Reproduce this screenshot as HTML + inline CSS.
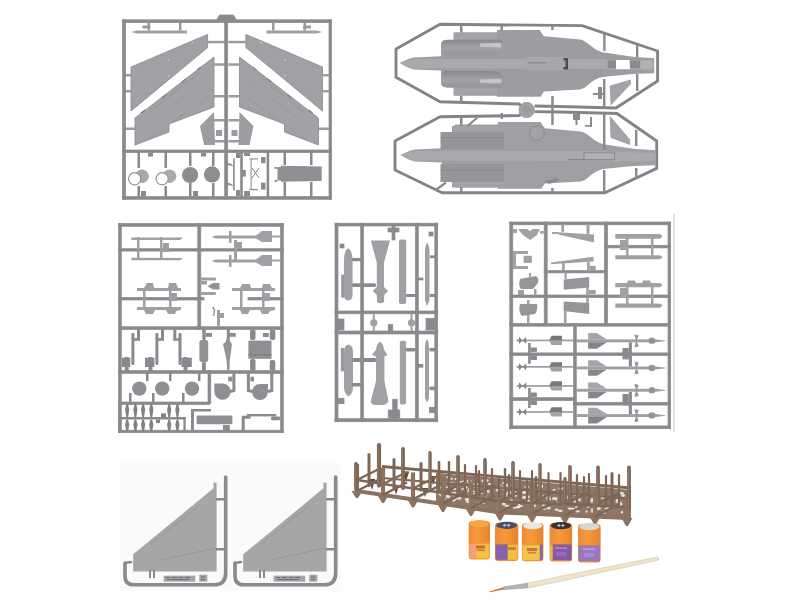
<!DOCTYPE html>
<html><head><meta charset="utf-8"><title>Model kit sprues</title>
<style>
html,body{margin:0;padding:0;background:#fff;width:800px;height:600px;overflow:hidden;font-family:"Liberation Sans",sans-serif;}
svg{display:block;position:absolute;left:0;top:0;}
</style></head><body>
<svg width="800" height="600" viewBox="0 0 800 600">
<defs>
 <linearGradient id="intk" x1="0" y1="0" x2="0" y2="1">
  <stop offset="0" stop-color="#88898d"/><stop offset="0.55" stop-color="#a2a3a7"/><stop offset="1" stop-color="#94959a"/>
 </linearGradient>
 <linearGradient id="pot" x1="0" y1="0" x2="1" y2="0">
  <stop offset="0" stop-color="#ea8a38"/><stop offset="0.4" stop-color="#f69a3a"/><stop offset="1" stop-color="#e6842e"/>
 </linearGradient>
</defs>
<rect width="800" height="600" fill="#fff"/>

<!-- ============ TOP-LEFT SPRUE ============ -->
<g id="tl">
 <g id="tlhalf" fill="#a0a1a4">
  <!-- rod -->
  <polygon points="131.5,32 137,30.4 187,30.4 187,33.6 137,33.6"/>
  <rect x="142.5" y="25.5" width="8" height="3" fill="#9a9b9e"/>
  <rect x="147.5" y="22.5" width="2.5" height="8" fill="#9a9b9e"/>
  <rect x="179" y="22.5" width="2.5" height="8" fill="#9a9b9e"/>
  <!-- stabilizer -->
  <polygon points="131,67 207.6,34.4 207.6,47.6 131,111" stroke="#85868a" stroke-width="0.8"/>
  <!-- wing -->
  <polygon points="214,57 135,118 135,145 169,132 169,124 214,107" fill="#a1a2a6" stroke="#85868a" stroke-width="0.8"/>
  <path d="M200,72 L150,112 M205,80 L145,127 M210,95 L150,138 M182,86 L172,94 M160,103 L152,110" stroke="#95969a" stroke-width="0.7" fill="none"/>
  <path d="M201,67 L197,70 M186,79 L182,82 M166,95 L162,98 M145,110 L141,113" stroke="#7e7f83" stroke-width="1.2" fill="none"/>
  <circle cx="192.4" cy="42.6" r="0.9" fill="#c8c9cc"/>
  <circle cx="168.6" cy="59.6" r="0.9" fill="#c8c9cc"/>
  <circle cx="168.6" cy="75.6" r="0.9" fill="#c8c9cc"/>
  <!-- tail piece -->
  <polygon points="200,126 214,112 215,145 204,145" fill="#9c9da0"/>
  <!-- stubs -->
  <g fill="#9a9b9e">
   <rect x="207" y="40.8" width="18" height="2.5"/>
   <rect x="214" y="63.3" width="11" height="2.5"/>
   <rect x="214" y="95" width="11" height="2.5"/>
   <rect x="214" y="119" width="11" height="2.5"/>
   <rect x="214" y="140" width="11" height="2.5"/>
   <rect x="123.5" y="74" width="8" height="2.5"/>
   <rect x="123.5" y="90" width="8" height="2.5"/>
   <rect x="123.5" y="127.5" width="12" height="2.5"/>
   <rect x="216" y="130" width="6" height="6"/>
  </g>
 </g>
 <use href="#tlhalf" transform="translate(453.5,0) scale(-1,1)"/>
 <!-- frames -->
 <g fill="#898a8e" stroke="#898a8e" stroke-width="0.7">
  <rect x="122.5" y="19.8" width="3" height="179.5"/>
  <rect x="122.5" y="19.8" width="209" height="2.8"/>
  <rect x="329" y="19.8" width="2.6" height="179.5"/>
  <rect x="122.5" y="196.5" width="209" height="2.8"/>
  <rect x="224.7" y="16" width="3" height="183"/>
  <rect x="122.5" y="150" width="209" height="2.6"/>
  <polygon points="216.5,20 219.5,15 233.5,15 236.5,20"/>
 </g>
 <!-- lower left section parts -->
 <g fill="#898a8e">
  <rect x="137.5" y="152" width="2.5" height="16"/>
  <rect x="164.5" y="152" width="2.5" height="16"/>
  <rect x="189" y="152" width="2.5" height="14"/>
  <rect x="212" y="152" width="2.5" height="14"/>
  <rect x="137.5" y="186" width="2.5" height="11"/>
  <rect x="164.5" y="186" width="2.5" height="11"/>
  <rect x="189" y="183" width="2.5" height="14"/>
  <rect x="212" y="183" width="2.5" height="14"/>
  <rect x="148" y="153" width="5" height="3.5"/>
  <rect x="201" y="153" width="5" height="3.5"/>
  <rect x="141" y="191" width="5" height="5.5"/>
  <rect x="193" y="191" width="5" height="5.5"/>
 </g>
 <circle cx="142" cy="176.3" r="6.8" fill="#a8a9ac"/>
 <circle cx="134.6" cy="178.8" r="6.7" fill="#96979b"/>
 <circle cx="134.6" cy="178.8" r="5.5" fill="#fff"/>
 <circle cx="169.5" cy="176.3" r="6.8" fill="#a8a9ac"/>
 <circle cx="162.1" cy="178.8" r="6.7" fill="#96979b"/>
 <circle cx="162.1" cy="178.8" r="5.5" fill="#fff"/>
 <circle cx="190.1" cy="175" r="8.1" fill="#8c8d91"/>
 <circle cx="212" cy="174.4" r="8.1" fill="#8c8d91"/>
 <!-- lower right section -->
 <g fill="#898a8e">
  <rect x="233.1" y="158.4" width="1.6" height="32.1"/>
  <path d="M227.6,163 Q231,163 232.8,165.3 L232.8,166.5 Q231,165 227.6,165.3 Z M227.6,182.7 Q231,182.7 232.8,185.3 L232.8,186.5 Q231,185 227.6,185.3 Z"/>
  <rect x="240.2" y="152" width="2.6" height="45"/>
  <rect x="266.6" y="152" width="2.6" height="45"/>
  <rect x="249.3" y="158.4" width="8.7" height="1.1"/>
  <rect x="249.3" y="189" width="8.7" height="1.1"/>
  <rect x="250.6" y="159" width="1" height="30"/>
  <path d="M252,168 L259,178 M259,168 L252,178" stroke="#898a8e" stroke-width="1"/>
  <rect x="274.4" y="167" width="3" height="1.8"/>
  <rect x="274.4" y="180" width="3" height="1.8"/>
  <rect x="283.5" y="152" width="2.5" height="13"/>
  <rect x="310" y="152" width="2.5" height="13"/>
  <rect x="283.5" y="182" width="2.5" height="15"/>
  <rect x="310" y="182" width="2.5" height="15"/>
  <rect x="236" y="153" width="4" height="5"/>
  <rect x="236" y="190" width="4" height="6"/>
  <rect x="244" y="153" width="6" height="3"/>
  <rect x="261" y="157" width="4.5" height="6.2"/>
  <rect x="261" y="182.7" width="4.5" height="6.9"/>
  <rect x="242.3" y="170" width="3.5" height="6.6"/>
  <rect x="244" y="191" width="6" height="5"/>
 </g>
 <path d="M277.5,167 L281,167 L281,165.8 L321.7,166.5 L321.7,181 L281,181.7 L281,180.5 L277.5,180.5 Z" fill="#8f9093"/>
</g>

<!-- ============ TOP-RIGHT SPRUE ============ -->
<g id="tr">
 <g fill="none" stroke="#838488" stroke-width="2.9" stroke-linejoin="round">
  <polyline points="527,110 519,104 440,101.8 396,77.3 396,48.9 440,24.3 582,25.6 657.6,51 657.6,81 616,108 560,106.5 534.6,106"/>
  <polyline points="527,110 519,115.6 440,116.8 395,141 395,170 442,192.8 605,192.8 656.7,168.4 656.7,141 617,113.5 560,112 534.6,111.6"/>
 </g>
 <circle cx="526.7" cy="110" r="7.6" fill="#a2a3a6" stroke="#949598" stroke-width="1"/>
 <circle cx="526.7" cy="110" r="4.2" fill="#9a9b9e"/>
 <g id="fus1">
  <path d="M399.7,63 C404,61 408,58.5 414,57.5 L441,56.2 L441,44 Q441,40 446,40 L453.7,40 L453.7,32.4 L497,32.4 L497,30 L539.6,30 L543.9,36.2 L580,39.4 Q584,40 590,45 Q596,50.5 602.5,52.2 L632.5,56.7 L654.2,58.2 L654.2,73.2 L632.5,74 L602.5,77 Q594,79 588,85 Q584,89 580,89.4 L543.9,91.5 L540.7,96.8 L497,96.8 L497,95.6 L453.7,95.6 L453.7,87.4 L446,87.4 Q441,87.4 441,83 L441,70.5 L414,69.5 C408,68 404,65.5 399.7,63 Z" fill="#9c9da1"/>
  <path d="M401,63 C405,61.5 409,59.5 414,59 L600,59 Q615,60 654,61 L654,69 Q615,70 600,69 L414,68.5 C409,67.5 405,65 401,63 Z" fill="#a9aaae"/>
  <path d="M453.7,32.4 L497,32.4 L497,39.7 L453.7,39.7 Z" fill="#a3a4a8"/>
  <path d="M453.7,87.4 L497,87.4 L497,95.6 L453.7,95.6 Z" fill="#a3a4a8"/>
  <path d="M441.8,45 Q441.8,39.7 448,39.7 L502.3,39.7 L502.3,52 Q498,55.3 490,55.3 L448,55.3 Q441.8,55.3 441.8,50 Z" fill="url(#intk)"/>
  <path d="M441.8,76 Q441.8,70.9 448,70.9 L490,70.9 Q498,70.9 502.3,74 L502.3,87.4 L448,87.4 Q441.8,87.4 441.8,82 Z" fill="url(#intk)"/>
  <path d="M480,43.5 L500,42.8 Q503,45 500,47.5 L480,46.8 Z" fill="#c4c5c8"/>
  <path d="M480,79.5 L500,78.8 Q503,81 500,83.5 L480,82.8 Z" fill="#c4c5c8"/>
  <rect x="526" y="57" width="42" height="13" fill="#a7a8ac"/>
  <rect x="528" y="62" width="18" height="1.5" fill="#8a8b8f"/>
  <path d="M563.5,58 L568,58 L568,69.5 L563.5,69.5 L563.5,67 L565.5,67 L565.5,60.5 L563.5,60.5 Z" fill="#4a4b4f"/>
 </g>
 <g id="fus2">
  <path d="M399.7,63 C404,61 408,58.5 414,57.5 L441,56.2 L441,44 Q441,40 446,40 L453.7,40 L453.7,32.4 L497,32.4 L497,30 L539.6,30 L543.9,36.2 L580,39.4 Q584,40 590,45 Q596,50.5 602.5,52.2 L632.5,56.7 L654.2,58.2 L654.2,73.2 L632.5,74 L602.5,77 Q594,79 588,85 Q584,89 580,89.4 L543.9,91.5 L540.7,96.8 L497,96.8 L497,95.6 L453.7,95.6 L453.7,87.4 L446,87.4 Q441,87.4 441,83 L441,70.5 L414,69.5 C408,68 404,65.5 399.7,63 Z" fill="#9e9fa3" transform="translate(0.8,92)"/>
  <path d="M401,63 C405,61.5 409,59.5 414,59 L600,59 Q615,60 654,61 L654,69 Q615,70 600,69 L414,68.5 C409,67.5 405,65 401,63 Z" fill="#a9aaae" transform="translate(0.8,92)"/>
  <rect x="452" y="126" width="52" height="6" fill="#a2a3a7"/>
  <rect x="452" y="182" width="52" height="5.5" fill="#a2a3a7"/>
  <rect x="440.5" y="132" width="63.5" height="17" fill="#959699"/>
  <rect x="440.5" y="164" width="63.5" height="18" fill="#959699"/>
  <rect x="440.5" y="137" width="63.5" height="1" fill="#8b8c90"/>
  <rect x="440.5" y="170" width="63.5" height="1" fill="#8b8c90"/>
  <path d="M498,123 L530,123 L536,126 L536,140 L504,140 Z" fill="#9c9da1" opacity="0"/>
  <circle cx="537" cy="133" r="7.2" fill="#a2a3a7" stroke="#8c8d91" stroke-width="1"/>
  <rect x="568" y="159" width="46" height="1.2" fill="#86878b"/>
  <rect x="584" y="152.8" width="30.7" height="6.8" fill="#b0b1b5" stroke="#86878a" stroke-width="0.8"/>
  <path d="M545,181 L556,178 L560,180 L549,184 Z" fill="#8a8b8f"/>
 </g>
 <path d="M607.7,60.5 L616,60.5 L616,68 L607.7,68 Z M630,60.5 L640,60.5 L640,68 L630,68 Z" fill="#8a8b8f"/>
 <path d="M616,60 L629.5,60 L630,69.3 L616,69.3 Z" fill="#ffffff"/>
 <path d="M641,60 L652,59.5 L652,71 L641,69 Z" fill="#b4b5b8" opacity="0.6"/>
 <path d="M467.5,126 L477.5,117.5 M435,190.5 L446,182.5" stroke="#898a8e" stroke-width="2.2" fill="none"/>
 <polygon points="610.2,86 630.5,80 630.5,84 611,104.7" fill="#a3a4a8" stroke="#8a8b8f" stroke-width="0.6"/>
 <polygon points="610.7,176.5 631.7,168.7 631.7,173.5 611.5,196" fill="#a0a1a4" opacity="0"/>
 <g fill="#898a8e">
  <rect x="460" y="25" width="2.5" height="7.5"/>
  <rect x="500.5" y="25" width="2.5" height="5"/>
  <rect x="551.2" y="25" width="2.5" height="5"/>
  <rect x="603.2" y="33" width="2.4" height="18"/>
  <rect x="636" y="45" width="2.4" height="12"/>
  <rect x="460" y="95.6" width="2.5" height="7"/>
  <rect x="551.2" y="96" width="2.5" height="10.5"/>
  <rect x="603" y="79" width="2.4" height="28.5"/>
  <rect x="636" y="74" width="2.4" height="17"/>
  <rect x="593" y="93" width="10" height="2"/>
  <rect x="598" y="87" width="4" height="12"/>
  <rect x="460" y="117" width="2.5" height="9"/>
  <rect x="500.5" y="113" width="2.5" height="6"/>
  <rect x="460" y="187" width="2.5" height="6"/>
  <rect x="551.2" y="105" width="2.5" height="20"/>
  <rect x="551.2" y="188" width="2.5" height="5"/>
  <rect x="603" y="113" width="2.4" height="37"/>
  <rect x="603" y="170" width="2.4" height="22"/>
  <rect x="635" y="130" width="2.4" height="16"/>
  <rect x="635" y="168" width="2.4" height="10"/>
  <rect x="573" y="114" width="7" height="6"/>
  <rect x="575.5" y="120" width="2" height="5"/>
  <rect x="590" y="117" width="2" height="10"/>
  <rect x="585" y="125" width="7" height="1.6"/>
 </g>
 <polygon points="610.2,116.7 629.7,139.5 629.7,144.5 611,137.5" fill="#a3a4a8" stroke="#8a8b8f" stroke-width="0.6"/>
</g>

<!-- ============ MIDDLE-LEFT SPRUE ============ -->
<g id="ml">
 <g fill="#898a8e" stroke="#898a8e" stroke-width="0.7">
  <rect x="118.5" y="223.5" width="2.8" height="209"/>
  <rect x="118.5" y="223.5" width="164.8" height="2.8"/>
  <rect x="280.6" y="223.5" width="2.7" height="209"/>
  <rect x="118.5" y="430.2" width="164.8" height="2.5"/>
  <rect x="197.8" y="223.5" width="3" height="106"/>
  <rect x="118.5" y="248.7" width="164.8" height="2.4"/>
  <rect x="118.5" y="297.4" width="85.5" height="2.6"/>
  <rect x="248" y="297.4" width="35" height="2.6"/>
  <rect x="118.5" y="326.7" width="164.8" height="2.8"/>
  <rect x="118.5" y="370.6" width="164.8" height="2.8"/>
  <rect x="118.5" y="402" width="91" height="2.5"/>
  <rect x="208" y="370.6" width="2.8" height="33"/>
 </g>
 <g fill="#9fa0a3">
  <!-- left rods -->
  <polygon points="131.4,237.5 183,237.5 180,240 131.4,240"/>
  <polygon points="131.4,257.8 183,258 180,260.3 131.4,260.3"/>
  <rect x="137" y="237" width="2.5" height="23"/>
  <rect x="160" y="237" width="2.5" height="23"/>
  <rect x="163" y="243" width="6" height="9"/>
  <!-- missiles -->
  <path d="M212,237 Q214,235 218,235.5 L256,235.5 L262,231 L272,231 L272,242 L262,242 L256,238.5 L218,238.5 Q214,238.5 212,237 Z"/>
  <path d="M212,261 Q214,259 218,259.5 L256,259.5 L262,255 L272,255 L272,266 L262,266 L256,262.5 L218,262.5 Q214,262.5 212,261 Z"/>
  <rect x="229" y="231" width="2.5" height="12"/>
  <rect x="229" y="255" width="2.5" height="12"/>
  <rect x="272" y="235.5" width="8.6" height="2"/>
  <rect x="272" y="259.5" width="8.6" height="2"/>
  <rect x="234" y="240" width="3" height="21"/>
  <rect x="236" y="242" width="6" height="7"/>
  <!-- pylons -->
  <path d="M137,288 L144,288 L147,283 L153,283 L154,288 L168,288 L169,283 L176,283 L178,288 L181,288 L181,291 L137,291 Z"/>
  <path d="M137,307 L181,307 L181,310 L176,311 L175,314 L168,314 L166,310 L155,310 L153,314 L146,314 L144,310 L137,310 Z"/>
  <rect x="143" y="288" width="2.5" height="22"/>
  <rect x="169" y="288" width="2.5" height="22"/>
  <rect x="171" y="293" width="6" height="8"/>
  <path d="M232,288 L240,288 L242,284 L250,284 L251,288 L262,288 L263,284 L270,284 L272,288 L275,288 L275,291 L232,291 Z"/>
  <path d="M232,307 L275,307 L275,310 L270,311 L268,314 L262,314 L260,310 L250,310 L248,314 L242,314 L240,310 L232,310 Z"/>
  <rect x="240" y="288" width="2.5" height="22"/>
  <rect x="262" y="288" width="2.5" height="22"/>
  <rect x="264" y="293" width="6" height="8"/>
  <!-- center small -->
  <rect x="200" y="277.5" width="16" height="3" rx="1.2"/>
  <path d="M207.5,286.2 L213,283 L219.5,283 L219.5,289.5 L213,289.5 Z" fill="#919296"/>
  <rect x="200" y="281" width="7" height="3.5"/>
  <rect x="200" y="292" width="16" height="3" rx="1.2"/>
  <rect x="217" y="310" width="3" height="16"/>
  <rect x="220" y="313" width="4" height="5"/>
  <path d="M212.5,307 L214.5,310 L213.5,316" fill="none" stroke="#919296" stroke-width="1.4"/>
 </g>
 <!-- lower section: vertical parts -->
 <g fill="#898a8e">
  <rect x="131.4" y="333" width="3" height="32" rx="1.2"/>
  <rect x="137" y="329" width="3" height="11"/>
  <rect x="133" y="338.2" width="7" height="2.6"/>
  <rect x="155.4" y="333" width="3" height="32" rx="1.2"/>
  <rect x="161" y="329" width="3" height="11"/>
  <rect x="157" y="338.2" width="7" height="2.6"/>
  <rect x="178.5" y="333" width="3" height="32" rx="1.2"/>
  <rect x="173.3" y="329" width="3" height="11"/>
  <rect x="173.3" y="338.2" width="7" height="2.6"/>
  <rect x="122" y="357.7" width="8.3" height="9.3"/>
  <rect x="124.7" y="357" width="4" height="15"/>
  <rect x="145" y="357.7" width="9.4" height="9.3"/>
  <rect x="148.5" y="357" width="4" height="15"/>
  <rect x="181.5" y="357.7" width="10.3" height="9.3"/>
  <rect x="183.5" y="357" width="4" height="15"/>
  <rect x="202.3" y="329" width="3.4" height="11" rx="1.2"/>
  <rect x="202" y="362" width="3.8" height="9" rx="1.2"/>
  <rect x="206" y="333" width="6" height="3.8"/>
  <rect x="226.8" y="329" width="3" height="10"/>
  <rect x="229" y="333" width="6.7" height="3.8"/>
  <rect x="250" y="329.5" width="5.5" height="10.5" rx="2"/>
  <rect x="269.8" y="329.5" width="5.5" height="10.5" rx="2"/>
  <rect x="263" y="333" width="5.7" height="4"/>
  <rect x="250" y="359" width="5.5" height="12" rx="2"/>
  <rect x="269.8" y="360" width="5.5" height="11" rx="2"/>
 </g>
 <g fill="#98999c">
  <path d="M199.4,341.5 L201,340 L206.6,340 L208.2,341.5 L208.2,360.5 L206.6,362 L201,362 L199.4,360.5 Z" fill="#919296"/>
  <path d="M226.5,339 Q227.8,337.5 229.5,339 L230.5,342 L231.9,344 L231,352 L229.8,360 L229.5,370 L227.2,370 L226.5,360 L224.8,352 L223,344 L225.5,342 Z" fill="#939498"/>
  <rect x="248.4" y="340.6" width="23.1" height="18.2" fill="#8e8f93"/>
  <rect x="248.4" y="354" width="23.1" height="1.2" fill="#7e7f83"/>
  <circle cx="139.3" cy="388.6" r="7.2" fill="#8f9093"/>
  <circle cx="162.2" cy="388.6" r="7.2" fill="#8f9093"/>
  <circle cx="192" cy="388.6" r="7.2" fill="#8f9093"/>
  <path d="M214.3,383.4 L222,383.4 A8.2,8.2 0 1 1 214.3,391.6 Z" fill="#8e8f93"/>
  <path d="M268,384 L268,392 A8,8 0 1 1 260,384 Z" fill="#8e8f93"/>
  <rect x="196.6" y="415.5" width="35.8" height="8.7" rx="1" fill="#8e8f93"/>
 </g>
 <g fill="#898a8e">
  <rect x="146" y="373" width="2.5" height="8"/>
  <rect x="169" y="373" width="2.5" height="8"/>
  <rect x="198" y="373" width="2.5" height="8"/>
  <path d="M233.9,373 L233.9,390.5 L230,391.5" fill="none" stroke="#898a8e" stroke-width="3"/>
  <path d="M248.4,373 L248.4,390.5 L252.5,391.5" fill="none" stroke="#898a8e" stroke-width="3"/>
  <path d="M271.8,373 L271.8,390.5 L268,391.5" fill="none" stroke="#898a8e" stroke-width="3"/>
  <rect x="228.2" y="376.7" width="4.2" height="4.7"/>
  <rect x="250.5" y="376.7" width="3.5" height="4.7"/>
  <rect x="129" y="393" width="2.5" height="9"/>
  <rect x="152" y="393" width="2.5" height="9"/>
  <rect x="182" y="393" width="2.5" height="9"/>
  <rect x="191" y="409" width="3" height="21"/>
  <rect x="191" y="409" width="20" height="2.5"/>
  <rect x="223" y="425" width="6.8" height="6"/>
  <path d="M250.5,417.2 L243.2,417.2 L243.2,431" fill="none" stroke="#898a8e" stroke-width="3"/>
  <rect x="246.8" y="414" width="29.5" height="2.4"/>
  <rect x="271" y="416.5" width="9.4" height="3.8" rx="1.5"/>
  <rect x="118.5" y="417" width="67" height="2.5"/>
  <rect x="183.4" y="417" width="2.3" height="14"/>
  <rect x="118.5" y="404" width="2" height="26"/>
 </g>
 <g fill="#808185">
  <path d="M126.4,404.0 L128.0,404.0 L129.3,409.5 L128.1,417.0 L126.3,417.0 L125.1,409.5 Z M126.4,419.5 L128.0,419.5 L129.3,424.5 L128.1,431.5 L126.3,431.5 L125.1,424.5 Z M134.6,404.0 L136.2,404.0 L137.5,409.5 L136.3,417.0 L134.5,417.0 L133.3,409.5 Z M134.6,419.5 L136.2,419.5 L137.5,424.5 L136.3,431.5 L134.5,431.5 L133.3,424.5 Z M142.3,404.0 L143.9,404.0 L145.2,409.5 L144.0,417.0 L142.2,417.0 L141.0,409.5 Z M142.3,419.5 L143.9,419.5 L145.2,424.5 L144.0,431.5 L142.2,431.5 L141.0,424.5 Z M150.5,404.0 L152.1,404.0 L153.4,409.5 L152.2,417.0 L150.4,417.0 L149.2,409.5 Z M150.5,419.5 L152.1,419.5 L153.4,424.5 L152.2,431.5 L150.4,431.5 L149.2,424.5 Z M168.4,404.0 L170.0,404.0 L171.3,409.5 L170.1,417.0 L168.3,417.0 L167.1,409.5 Z M168.4,419.5 L170.0,419.5 L171.3,424.5 L170.1,431.5 L168.3,431.5 L167.1,424.5 Z M176.6,404.0 L178.2,404.0 L179.5,409.5 L178.3,417.0 L176.5,417.0 L175.3,409.5 Z M176.6,419.5 L178.2,419.5 L179.5,424.5 L178.3,431.5 L176.5,431.5 L175.3,424.5 Z"/>
  <rect x="161" y="413.4" width="5" height="3.6"/>
  <rect x="156" y="419.5" width="4" height="3.5"/>
 </g>
</g>

<!-- ============ MIDDLE-CENTER SPRUE ============ -->
<g id="mc">
 <g fill="#898a8e" stroke="#898a8e" stroke-width="0.7">
  <rect x="335" y="223.2" width="3" height="198.5"/>
  <rect x="335" y="223.2" width="102.7" height="2.8"/>
  <rect x="434.8" y="223.2" width="2.9" height="198.5"/>
  <rect x="335" y="418.7" width="102.7" height="3"/>
  <rect x="360.7" y="223.2" width="2.9" height="198.5"/>
  <rect x="415.4" y="223.2" width="2.9" height="198.5"/>
  <rect x="335" y="311" width="102.7" height="2.8"/>
  <rect x="335" y="331" width="102.7" height="3"/>
  <rect x="392" y="226" width="3" height="14"/>
  <rect x="388" y="228" width="4" height="4"/>
  <rect x="395" y="228" width="4" height="4"/>
  <rect x="340" y="244" width="4" height="4"/>
  <rect x="429" y="232" width="4" height="4"/>
  <rect x="338" y="319" width="6" height="11"/>
  <rect x="426" y="318.3" width="8.5" height="11.7"/>
  <rect x="388.2" y="324.6" width="4.5" height="6.4"/>
  <rect x="338" y="398.3" width="6" height="5.4"/>
  <rect x="429.5" y="407.3" width="5.5" height="5.4"/>
  <rect x="392.7" y="399.2" width="4.5" height="20"/>
  <rect x="388.2" y="410" width="11.6" height="8"/>
 </g>
 <g fill="#a0a1a4">
  <path d="M348.2,248.2 Q352.5,250 352.6,262 L352.6,294 Q352.6,300.5 348.2,300.5 Q343.9,300.5 343.9,294 L343.9,262 Q344,250 348.2,248.2 Z"/>
  <rect x="341.2" y="274.7" width="2.8" height="23" fill="#98999d"/>
  <path d="M370.8,240.5 L390,240.5 L384,262.6 L384,287 L388,291 L384.2,295 L384,302 Q380.5,304.5 377,302 L376.8,295 L372.7,291 L376.8,287 L376.8,262.6 Z"/>
  <rect x="399" y="239.6" width="7.2" height="64.5" rx="2"/>
  <path d="M427,242.5 Q429.5,246 429.5,252 L429.5,300 L427,306.6 L425,300 L425,252 Q425,246 427,242.5 Z"/>
  <path d="M348.5,344.4 Q353,345 353,352 L353,388 Q353,393 348.5,396.5 Q344,393 344,388 L344,352 Q344,345 348.5,344.4 Z"/>
  <rect x="340.8" y="348" width="3.4" height="23.4" fill="#98999d"/>
  <path d="M380,341.5 Q383.5,344 384,349.8 L387.5,355 L384.4,356.5 L384.4,381 L388.5,401 Q387,405 382,405 L376,405 Q371,405 370.8,401 L376,381 L376,356.5 L371.9,355 L376,349.8 Q376.5,344 380,341.5 Z"/>
  <rect x="399.8" y="340.8" width="6.3" height="63.8" rx="2"/>
  <path d="M427,339 Q429,342 429,348 L429,398 L427,403 L425,398 L425,348 Q425,342 427,339 Z"/>
  <circle cx="373.8" cy="322.8" r="3.6"/>
  <circle cx="411.5" cy="322.8" r="3.6"/>
  <rect x="372.8" y="314" width="2" height="6"/>
  <rect x="372.8" y="325" width="2" height="6"/>
  <rect x="410.5" y="314" width="2" height="6"/>
  <rect x="410.5" y="325" width="2" height="6"/>
 </g>
 <g fill="#898a8e">
  <rect x="352" y="258" width="9" height="3.2" rx="1"/>
  <rect x="352" y="283.3" width="24" height="3.7" rx="1.5"/>
  <rect x="406" y="294" width="10" height="3" rx="1"/>
  <rect x="429.8" y="255.4" width="6" height="2.8"/>
  <rect x="429.8" y="294" width="6" height="3"/>
  <rect x="418.4" y="277.6" width="5" height="2.8"/>
  <rect x="352" y="357.9" width="24.5" height="4.2" rx="1.8"/>
  <rect x="352" y="383" width="9.2" height="3.6" rx="1.4"/>
  <rect x="405.5" y="348" width="10" height="3.4" rx="1.4"/>
  <rect x="429.5" y="348" width="5.6" height="3.4"/>
  <rect x="417.8" y="364" width="5.5" height="3.6"/>
  <rect x="429.5" y="386.6" width="5.6" height="3.6"/>
 </g>
</g>

<!-- ============ MIDDLE-RIGHT SPRUE ============ -->
<rect x="673.2" y="214" width="1.7" height="218" fill="#dcdcdc"/>
<g id="mr">
 <g fill="#898a8e" stroke="#898a8e" stroke-width="0.7">
  <rect x="509.8" y="222" width="3" height="206.7"/>
  <rect x="509.8" y="222" width="160.7" height="2.8"/>
  <rect x="668" y="222" width="2.6" height="206.7"/>
  <rect x="509.8" y="425.9" width="160.7" height="2.8"/>
  <rect x="544.2" y="222" width="3" height="102"/>
  <rect x="604.5" y="222" width="3" height="102"/>
  <rect x="509.8" y="295" width="160.7" height="2.6"/>
  <rect x="544.2" y="270.6" width="62" height="2.3"/>
  <rect x="604.5" y="245.3" width="66" height="2.6"/>
  <rect x="509.8" y="323.4" width="160.7" height="2.8"/>
  <rect x="573.6" y="323.4" width="2.7" height="105"/>
  <rect x="509.8" y="352.9" width="160.7" height="2.6"/>
  <rect x="509.8" y="397.7" width="66" height="2.8"/>
  <rect x="573.6" y="402.3" width="97" height="2.8"/>
 </g>
 <g fill="#a0a1a4">
  <!-- right rods -->
  <path d="M615.3,234 L660,234 L662.7,236.3 L660,238.7 L615.3,238.7 Z"/>
  <path d="M615.3,255.3 L660,255.3 L662.7,257.3 L660,259.3 L615.3,259.3 Z"/>
  <path d="M615.3,283 L627,283 L628,280.5 L635,280.5 L636,283 L642,283 L643,280.5 L650,280.5 L651,283 L660,283 L662.7,285 L660,287.3 L615.3,287.3 Z"/>
  <path d="M615.3,303.5 L660,303.5 L662.7,305.6 L660,307.7 L615.3,307.7 Z"/>
  <rect x="626" y="238" width="2.5" height="18"/>
  <rect x="651" y="238" width="2.5" height="18"/>
  <rect x="620" y="240" width="6" height="10"/>
  <rect x="626" y="287" width="2.5" height="17"/>
  <rect x="651" y="287" width="2.5" height="17"/>
  <rect x="620" y="288" width="6" height="10"/>
  <!-- middle wedges -->
  <polygon points="558,232.3 594,234.5 594,242.6 558,234.6"/>
  <polygon points="551,262.5 593.5,256.7 593.5,261.5 551,264.2"/>
  <rect x="552" y="232" width="6" height="2" />
  <polygon points="563.7,279.5 589.2,277 589.2,287.5 563.7,289.7" fill="#949598"/>
  <polygon points="563.7,301.4 589.2,303 589.2,314 563.7,311" fill="#949598"/>
  <rect x="561.3" y="224" width="2.8" height="8" rx="1"/>
  <rect x="586.5" y="224" width="3" height="10" rx="1"/>
  <rect x="562" y="263" width="2.8" height="8" rx="1"/>
  <rect x="587" y="262" width="2.8" height="9" rx="1"/>
  <rect x="589.7" y="265.8" width="6" height="4.2"/>
  <rect x="564.6" y="272" width="2.2" height="7"/>
  <rect x="586.2" y="287" width="2.6" height="8.5"/>
  <rect x="588.8" y="290" width="6.9" height="4.2"/>
  <rect x="586.2" y="297" width="2.6" height="6"/>
  <rect x="563.9" y="310" width="2.6" height="14"/>
  <!-- left small parts -->
  <path d="M518,229 L527,229 L530,231 L533,229 L540,229 L537,235 L530,240 L523,235 Z"/>
  <rect x="513" y="229" width="4" height="4"/>
  <rect x="540" y="231" width="5" height="2.5"/>
  <rect x="513" y="251" width="15" height="3"/>
  <rect x="513" y="266" width="15" height="3"/>
  <rect x="513" y="251" width="3" height="18"/>
  <rect x="523.6" y="255.8" width="8.3" height="7.2" rx="1"/>
  <path d="M520,279 L536,276 Q539,278 538,283 L533,289 L521,289 Q518,286 520,279 Z" fill="#949598"/>
  <rect x="529" y="273" width="2" height="4"/>
  <path d="M520,304 L537,304 Q538,310 535,314 L522,316 Q518,312 520,304 Z" fill="#949598"/>
  <rect x="527" y="300" width="2.5" height="5"/>
  <rect x="527" y="315" width="2.5" height="8"/>
  <rect x="518" y="290" width="6" height="5"/>
  <rect x="534" y="289" width="2.5" height="6"/>
 </g>
 <!-- missiles small (left) -->
 <g id="sm" fill="#9c9da1">
  <rect x="517" y="339.6" width="56.6" height="1.7"/>
  <path d="M515.8,340.45 L519.5,338.8 L519.5,342.1 Z"/>
  <path d="M519,336.8 L522.6,340.4 L519,344 Z M526.2,336.8 L522.6,340.4 L526.2,344 Z" fill="#85868a"/>
  <path d="M549.2,340.4 L551.5,335.8 L562,335.8 L562,340.4 Z" fill="#77787c"/>
  <path d="M549.2,340.4 L562,340.4 L562,345 L551.5,345 Z" fill="#a2a3a7"/>
 </g>
 <use href="#sm" transform="translate(0,26.4)"/>
 <use href="#sm" transform="translate(0,45.5)"/>
 <use href="#sm" transform="translate(0,71.5)"/>
 <!-- missiles big (right) -->
 <g id="bm" fill="#9fa0a3">
  <rect x="576.2" y="339.4" width="80" height="2.9"/>
  <path d="M656,339.4 L665.5,340.6 L665.5,341.1 L656,342.3 Z"/>
  <path d="M588.1,333.1 L596.9,333.1 L606.9,339.4 L588.1,339.4 Z" fill="#a4a5a9"/>
  <path d="M588.1,342.3 L606.9,342.3 L596.9,348.75 L588.1,348.75 Z" fill="#84858a"/>
  <path d="M634.4,334.4 L638.8,335.5 L636.6,340.8 L638.8,346.5 L634.4,347.5 L636,340.8 Z" fill="#96979b"/>
  <rect x="648.7" y="337.8" width="6.3" height="6" rx="2" fill="#939498"/>
 </g>
 <use href="#bm" transform="translate(0,27.1)"/>
 <use href="#bm" transform="translate(0,49.4)"/>
 <use href="#bm" transform="translate(0,74.7)"/>
 <g fill="#898a8e">
  <rect x="528.1" y="343" width="2.6" height="20.8"/>
  <rect x="530.6" y="347.5" width="6.3" height="4.4"/>
  <rect x="530.6" y="355.6" width="6.3" height="4.4"/>
  <rect x="528.1" y="388" width="2.6" height="20"/>
  <rect x="530.6" y="392.5" width="6.3" height="4.4"/>
  <rect x="530.6" y="400.6" width="6.3" height="4.4"/>
  <rect x="628.8" y="342.5" width="3.1" height="24"/>
  <rect x="622.5" y="348" width="6.3" height="11.4"/>
  <rect x="628.8" y="392" width="3.1" height="22"/>
  <rect x="622.5" y="394" width="6.3" height="11.4"/>
 </g>
</g>

<!-- ============ BOTTOM-LEFT FINS ============ -->
<rect x="120" y="463" width="220" height="128" fill="#f9fafa"/>
<g id="fin1">
 <polygon points="133.2,554.3 213.5,488.3 213.5,482.2 216.6,483 216.6,571.6 133.2,571.6" fill="#a6a6a8"/>
 <path d="M160,560 L216,548" stroke="#939497" stroke-width="0.8" fill="none"/>
 <path d="M150,545 L200,505" stroke="#939497" stroke-width="0.8" fill="none"/>
 <g fill="#898a8e">
  <path d="M225.7,477 L225.7,573 Q225.7,584.8 214,584.8 L134,584.8 Q125,584.8 125,576 L125,563" fill="none" stroke="#898a8e" stroke-width="3.6" stroke-linecap="round"/>
  <path d="M125,563 L131,562" fill="none" stroke="#898a8e" stroke-width="2.6" stroke-linecap="round"/>
  <rect x="216" y="498" width="8" height="2.5"/>
  <rect x="216" y="548" width="8" height="2.5"/>
  <rect x="163.7" y="575.7" width="31.5" height="6" fill="#a3a4a8"/>
  <rect x="199.3" y="574.7" width="8" height="7" fill="#a3a4a8"/>
  <path d="M166,577.5 h4 M172,577.5 h5 M179,577.5 h4 M185,577.5 h5 M167,579.5 h22 M201,577 h4 M201,579.5 h4" stroke="#6e6f73" stroke-width="1" fill="none"/>
  <rect x="149" y="570" width="2" height="8"/>
  <rect x="153" y="570" width="2" height="8"/>
 </g>
</g>
<use href="#fin1" transform="translate(110,0)"/>

<!-- ============ BROWN RACK ============ -->
<g id="rack">
<path d="M368.8,479.0 L375.2,479.0 L372.0,490.0 Z" fill="#5f4a3d"/>
<path d="M392.8,485.0 L399.2,485.0 L396.0,494.4 Z" fill="#5f4a3d"/>
<path d="M402.8,471.5 L409.2,471.5 L406.0,481.6 Z" fill="#5f4a3d"/>
<path d="M421.8,488.0 L428.2,488.0 L425.0,497.0 Z" fill="#5f4a3d"/>
<path d="M429.8,476.0 L436.2,476.0 L433.0,485.0 Z" fill="#5f4a3d"/>
<polygon points="436.0,472.8 444.0,473.5 452.0,474.2 460.0,474.9 468.0,475.6 476.0,476.3 484.0,477.0 492.0,477.7 500.0,478.4 508.0,479.1 516.0,479.8 524.0,480.5 532.0,481.3 540.0,482.0 548.0,482.7 556.0,483.4 564.0,484.1 572.0,484.8 580.0,485.5 588.0,486.2 596.0,486.9 604.0,487.6 612.0,488.3 620.0,489.0 628.0,489.7 631.0,490.0 631.0,518.0 628.0,518.0 620.0,517.7 612.0,517.3 604.0,517.0 596.0,516.6 588.0,516.3 580.0,515.9 572.0,515.6 564.0,515.2 556.0,514.9 548.0,514.6 540.0,514.2 532.0,513.9 524.0,513.5 516.0,513.2 508.0,512.8 500.0,512.5 492.0,511.3 484.0,510.1 476.0,508.9 468.0,507.7 460.0,506.5 452.0,505.3 444.0,504.1 436.0,502.9" fill="#8e7767"/>
<ellipse cx="500.2" cy="485.5" rx="2.1" ry="0.9" fill="#f4efea" opacity="0.85"/>
<ellipse cx="539.7" cy="494.2" rx="1.3" ry="1.3" fill="#f4efea" opacity="0.85"/>
<ellipse cx="447.0" cy="487.1" rx="1.3" ry="0.9" fill="#f4efea" opacity="0.85"/>
<ellipse cx="519.0" cy="504.8" rx="1.4" ry="1.0" fill="#f4efea" opacity="0.85"/>
<ellipse cx="556.7" cy="509.7" rx="2.0" ry="1.2" fill="#f4efea" opacity="0.85"/>
<ellipse cx="621.6" cy="493.2" rx="2.4" ry="1.1" fill="#f4efea" opacity="0.85"/>
<ellipse cx="466.8" cy="481.4" rx="1.6" ry="1.6" fill="#f4efea" opacity="0.85"/>
<ellipse cx="473.6" cy="493.9" rx="2.1" ry="1.2" fill="#f4efea" opacity="0.85"/>
<ellipse cx="541.9" cy="486.7" rx="1.3" ry="1.0" fill="#f4efea" opacity="0.85"/>
<ellipse cx="566.6" cy="497.6" rx="1.6" ry="1.4" fill="#f4efea" opacity="0.85"/>
<ellipse cx="524.3" cy="491.4" rx="2.3" ry="1.5" fill="#f4efea" opacity="0.85"/>
<ellipse cx="485.4" cy="495.2" rx="1.9" ry="1.7" fill="#f4efea" opacity="0.85"/>
<ellipse cx="575.7" cy="494.9" rx="2.6" ry="0.9" fill="#f4efea" opacity="0.85"/>
<ellipse cx="517.8" cy="502.9" rx="1.4" ry="1.3" fill="#f4efea" opacity="0.85"/>
<ellipse cx="447.3" cy="492.7" rx="2.3" ry="1.4" fill="#f4efea" opacity="0.85"/>
<ellipse cx="602.8" cy="497.5" rx="2.2" ry="1.4" fill="#f4efea" opacity="0.85"/>
<ellipse cx="547.9" cy="497.0" rx="2.4" ry="1.7" fill="#f4efea" opacity="0.85"/>
<ellipse cx="528.2" cy="501.0" rx="1.3" ry="1.5" fill="#f4efea" opacity="0.85"/>
<ellipse cx="560.4" cy="510.9" rx="2.4" ry="1.1" fill="#f4efea" opacity="0.85"/>
<ellipse cx="511.8" cy="500.2" rx="1.2" ry="1.3" fill="#f4efea" opacity="0.85"/>
<ellipse cx="471.3" cy="481.8" rx="1.3" ry="1.6" fill="#f4efea" opacity="0.85"/>
<ellipse cx="464.1" cy="484.4" rx="1.7" ry="1.7" fill="#f4efea" opacity="0.85"/>
<ellipse cx="455.0" cy="488.4" rx="2.0" ry="1.7" fill="#f4efea" opacity="0.85"/>
<ellipse cx="592.4" cy="509.4" rx="1.6" ry="1.2" fill="#f4efea" opacity="0.85"/>
<ellipse cx="506.7" cy="505.7" rx="2.5" ry="1.0" fill="#f4efea" opacity="0.85"/>
<ellipse cx="472.8" cy="484.9" rx="1.5" ry="1.3" fill="#f4efea" opacity="0.85"/>
<ellipse cx="549.6" cy="492.3" rx="1.2" ry="1.2" fill="#f4efea" opacity="0.85"/>
<ellipse cx="508.7" cy="497.3" rx="2.5" ry="1.5" fill="#f4efea" opacity="0.85"/>
<ellipse cx="535.9" cy="500.3" rx="2.1" ry="0.9" fill="#f4efea" opacity="0.85"/>
<ellipse cx="607.3" cy="508.2" rx="2.4" ry="1.6" fill="#f4efea" opacity="0.85"/>
<ellipse cx="513.0" cy="493.1" rx="1.3" ry="1.4" fill="#f4efea" opacity="0.85"/>
<ellipse cx="451.6" cy="478.8" rx="1.5" ry="1.0" fill="#f4efea" opacity="0.85"/>
<ellipse cx="503.2" cy="483.1" rx="1.2" ry="1.0" fill="#f4efea" opacity="0.85"/>
<ellipse cx="458.9" cy="486.7" rx="1.2" ry="1.7" fill="#f4efea" opacity="0.85"/>
<ellipse cx="554.2" cy="489.9" rx="1.6" ry="1.1" fill="#f4efea" opacity="0.85"/>
<ellipse cx="507.7" cy="485.4" rx="2.4" ry="1.8" fill="#f4efea" opacity="0.85"/>
<ellipse cx="526.7" cy="496.3" rx="1.3" ry="0.9" fill="#f4efea" opacity="0.85"/>
<ellipse cx="503.7" cy="488.9" rx="2.4" ry="1.0" fill="#f4efea" opacity="0.85"/>
<ellipse cx="444.3" cy="499.0" rx="1.9" ry="0.9" fill="#f4efea" opacity="0.85"/>
<ellipse cx="541.0" cy="485.7" rx="1.9" ry="1.8" fill="#f4efea" opacity="0.85"/>
<ellipse cx="600.6" cy="506.0" rx="1.6" ry="1.2" fill="#f4efea" opacity="0.85"/>
<ellipse cx="471.1" cy="498.4" rx="1.9" ry="1.6" fill="#f4efea" opacity="0.85"/>
<ellipse cx="501.3" cy="487.6" rx="2.3" ry="1.8" fill="#f4efea" opacity="0.85"/>
<ellipse cx="598.6" cy="508.4" rx="2.3" ry="1.5" fill="#f4efea" opacity="0.85"/>
<ellipse cx="482.2" cy="493.3" rx="1.7" ry="0.8" fill="#f4efea" opacity="0.85"/>
<ellipse cx="445.2" cy="483.2" rx="1.6" ry="1.5" fill="#f4efea" opacity="0.85"/>
<ellipse cx="617.9" cy="501.6" rx="2.5" ry="1.8" fill="#f4efea" opacity="0.85"/>
<ellipse cx="617.6" cy="499.7" rx="1.5" ry="1.0" fill="#f4efea" opacity="0.85"/>
<ellipse cx="476.6" cy="484.6" rx="2.1" ry="1.7" fill="#f4efea" opacity="0.85"/>
<ellipse cx="596.3" cy="500.8" rx="2.1" ry="1.6" fill="#f4efea" opacity="0.85"/>
<ellipse cx="455.8" cy="493.6" rx="2.5" ry="1.6" fill="#f4efea" opacity="0.85"/>
<ellipse cx="579.5" cy="499.7" rx="1.4" ry="1.6" fill="#f4efea" opacity="0.85"/>
<ellipse cx="501.8" cy="503.2" rx="2.6" ry="1.2" fill="#f4efea" opacity="0.85"/>
<ellipse cx="514.7" cy="507.7" rx="2.2" ry="1.0" fill="#f4efea" opacity="0.85"/>
<ellipse cx="463.6" cy="482.0" rx="2.5" ry="1.6" fill="#f4efea" opacity="0.85"/>
<ellipse cx="467.2" cy="499.2" rx="2.6" ry="1.5" fill="#f4efea" opacity="0.85"/>
<ellipse cx="505.2" cy="496.6" rx="1.4" ry="0.8" fill="#f4efea" opacity="0.85"/>
<ellipse cx="620.6" cy="506.1" rx="1.9" ry="1.7" fill="#f4efea" opacity="0.85"/>
<ellipse cx="520.7" cy="506.0" rx="2.4" ry="1.0" fill="#f4efea" opacity="0.85"/>
<ellipse cx="486.8" cy="488.0" rx="1.5" ry="1.4" fill="#f4efea" opacity="0.85"/>
<ellipse cx="488.2" cy="491.4" rx="1.4" ry="1.7" fill="#f4efea" opacity="0.85"/>
<ellipse cx="505.8" cy="494.2" rx="2.0" ry="1.7" fill="#f4efea" opacity="0.85"/>
<ellipse cx="518.2" cy="507.1" rx="1.9" ry="1.3" fill="#f4efea" opacity="0.85"/>
<ellipse cx="537.4" cy="485.2" rx="1.8" ry="1.0" fill="#f4efea" opacity="0.85"/>
<ellipse cx="440.7" cy="494.9" rx="1.4" ry="1.3" fill="#f4efea" opacity="0.85"/>
<ellipse cx="574.9" cy="501.2" rx="1.7" ry="1.3" fill="#f4efea" opacity="0.85"/>
<ellipse cx="543.3" cy="504.9" rx="1.3" ry="1.4" fill="#f4efea" opacity="0.85"/>
<ellipse cx="486.2" cy="487.5" rx="2.3" ry="1.3" fill="#f4efea" opacity="0.85"/>
<ellipse cx="544.5" cy="504.4" rx="2.5" ry="1.2" fill="#f4efea" opacity="0.85"/>
<ellipse cx="553.9" cy="498.6" rx="1.9" ry="1.5" fill="#f4efea" opacity="0.85"/>
<ellipse cx="524.1" cy="497.4" rx="1.9" ry="1.7" fill="#f4efea" opacity="0.85"/>
<ellipse cx="570.1" cy="508.6" rx="2.5" ry="1.1" fill="#f4efea" opacity="0.85"/>
<ellipse cx="544.1" cy="509.0" rx="2.4" ry="0.9" fill="#f4efea" opacity="0.85"/>
<ellipse cx="462.6" cy="489.1" rx="1.3" ry="1.0" fill="#f4efea" opacity="0.85"/>
<ellipse cx="453.6" cy="493.5" rx="2.3" ry="1.7" fill="#f4efea" opacity="0.85"/>
<ellipse cx="468.7" cy="496.7" rx="2.1" ry="0.9" fill="#f4efea" opacity="0.85"/>
<ellipse cx="604.2" cy="512.3" rx="1.5" ry="1.8" fill="#f4efea" opacity="0.85"/>
<ellipse cx="514.1" cy="495.6" rx="2.6" ry="1.6" fill="#f4efea" opacity="0.85"/>
<ellipse cx="470.0" cy="489.7" rx="1.9" ry="1.1" fill="#f4efea" opacity="0.85"/>
<ellipse cx="476.4" cy="487.5" rx="2.2" ry="0.8" fill="#f4efea" opacity="0.85"/>
<ellipse cx="543.1" cy="496.3" rx="1.2" ry="1.1" fill="#f4efea" opacity="0.85"/>
<ellipse cx="556.1" cy="498.9" rx="1.3" ry="1.8" fill="#f4efea" opacity="0.85"/>
<ellipse cx="586.6" cy="511.6" rx="1.3" ry="1.1" fill="#f4efea" opacity="0.85"/>
<ellipse cx="447.4" cy="495.3" rx="1.6" ry="0.9" fill="#f4efea" opacity="0.85"/>
<ellipse cx="518.5" cy="507.0" rx="2.3" ry="1.1" fill="#f4efea" opacity="0.85"/>
<ellipse cx="467.8" cy="501.6" rx="2.0" ry="1.5" fill="#f4efea" opacity="0.85"/>
<ellipse cx="456.6" cy="479.0" rx="2.2" ry="1.2" fill="#f4efea" opacity="0.85"/>
<ellipse cx="453.5" cy="500.0" rx="2.1" ry="1.6" fill="#f4efea" opacity="0.85"/>
<ellipse cx="455.6" cy="498.3" rx="1.3" ry="1.7" fill="#f4efea" opacity="0.85"/>
<ellipse cx="524.4" cy="492.4" rx="2.0" ry="1.7" fill="#f4efea" opacity="0.85"/>
<ellipse cx="489.8" cy="483.9" rx="1.9" ry="1.0" fill="#f4efea" opacity="0.85"/>
<ellipse cx="460.4" cy="481.9" rx="1.3" ry="1.0" fill="#f4efea" opacity="0.85"/>
<ellipse cx="498.0" cy="489.5" rx="2.3" ry="1.1" fill="#f4efea" opacity="0.85"/>
<ellipse cx="533.0" cy="488.9" rx="1.7" ry="0.8" fill="#f4efea" opacity="0.85"/>
<ellipse cx="486.6" cy="480.6" rx="2.2" ry="1.4" fill="#f4efea" opacity="0.85"/>
<ellipse cx="475.2" cy="491.4" rx="2.5" ry="0.9" fill="#f4efea" opacity="0.85"/>
<ellipse cx="592.3" cy="499.5" rx="1.9" ry="1.6" fill="#f4efea" opacity="0.85"/>
<ellipse cx="513.1" cy="496.0" rx="2.2" ry="1.8" fill="#f4efea" opacity="0.85"/>
<ellipse cx="503.7" cy="504.1" rx="2.2" ry="1.4" fill="#f4efea" opacity="0.85"/>
<ellipse cx="515.3" cy="491.9" rx="1.3" ry="0.9" fill="#f4efea" opacity="0.85"/>
<ellipse cx="453.2" cy="495.2" rx="1.6" ry="1.0" fill="#f4efea" opacity="0.85"/>
<ellipse cx="455.7" cy="498.0" rx="2.4" ry="1.5" fill="#f4efea" opacity="0.85"/>
<ellipse cx="492.4" cy="487.2" rx="1.6" ry="1.3" fill="#f4efea" opacity="0.85"/>
<ellipse cx="469.3" cy="489.9" rx="1.6" ry="1.8" fill="#f4efea" opacity="0.85"/>
<ellipse cx="620.9" cy="503.9" rx="1.5" ry="1.8" fill="#f4efea" opacity="0.85"/>
<ellipse cx="497.6" cy="490.8" rx="1.2" ry="1.2" fill="#f4efea" opacity="0.85"/>
<ellipse cx="528.3" cy="496.9" rx="1.5" ry="1.3" fill="#f4efea" opacity="0.85"/>
<ellipse cx="440.9" cy="482.4" rx="1.3" ry="1.2" fill="#f4efea" opacity="0.85"/>
<ellipse cx="447.8" cy="477.3" rx="1.6" ry="1.0" fill="#f4efea" opacity="0.85"/>
<ellipse cx="548.9" cy="498.9" rx="2.3" ry="1.5" fill="#f4efea" opacity="0.85"/>
<ellipse cx="573.2" cy="508.8" rx="1.7" ry="1.1" fill="#f4efea" opacity="0.85"/>
<ellipse cx="623.2" cy="495.5" rx="2.2" ry="1.4" fill="#f4efea" opacity="0.85"/>
<ellipse cx="448.1" cy="496.8" rx="2.4" ry="1.4" fill="#f4efea" opacity="0.85"/>
<ellipse cx="576.5" cy="507.4" rx="1.4" ry="1.3" fill="#f4efea" opacity="0.85"/>
<ellipse cx="533.8" cy="505.7" rx="2.3" ry="1.6" fill="#f4efea" opacity="0.85"/>
<ellipse cx="548.6" cy="507.9" rx="2.2" ry="1.5" fill="#f4efea" opacity="0.85"/>
<ellipse cx="482.8" cy="480.7" rx="1.4" ry="1.2" fill="#f4efea" opacity="0.85"/>
<ellipse cx="459.5" cy="498.4" rx="2.0" ry="1.4" fill="#f4efea" opacity="0.85"/>
<ellipse cx="556.5" cy="503.1" rx="1.9" ry="0.8" fill="#f4efea" opacity="0.85"/>
<ellipse cx="588.4" cy="506.5" rx="1.9" ry="1.3" fill="#f4efea" opacity="0.85"/>
<ellipse cx="562.6" cy="488.6" rx="2.2" ry="1.1" fill="#f4efea" opacity="0.85"/>
<ellipse cx="453.8" cy="483.8" rx="2.2" ry="1.0" fill="#f4efea" opacity="0.85"/>
<ellipse cx="577.6" cy="511.3" rx="1.9" ry="1.2" fill="#f4efea" opacity="0.85"/>
<ellipse cx="529.1" cy="501.6" rx="2.3" ry="1.4" fill="#f4efea" opacity="0.85"/>
<ellipse cx="559.6" cy="488.6" rx="1.4" ry="1.1" fill="#f4efea" opacity="0.85"/>
<ellipse cx="578.2" cy="495.5" rx="2.0" ry="0.8" fill="#f4efea" opacity="0.85"/>
<ellipse cx="451.3" cy="483.6" rx="2.1" ry="1.5" fill="#f4efea" opacity="0.85"/>
<ellipse cx="565.7" cy="494.2" rx="1.9" ry="1.3" fill="#f4efea" opacity="0.85"/>
<ellipse cx="526.7" cy="486.9" rx="2.5" ry="1.0" fill="#f4efea" opacity="0.85"/>
<ellipse cx="621.9" cy="512.4" rx="1.2" ry="1.3" fill="#f4efea" opacity="0.85"/>
<ellipse cx="592.5" cy="511.7" rx="1.8" ry="1.1" fill="#f4efea" opacity="0.85"/>
<ellipse cx="479.0" cy="504.0" rx="1.5" ry="1.4" fill="#f4efea" opacity="0.85"/>
<ellipse cx="466.4" cy="491.6" rx="2.5" ry="0.9" fill="#f4efea" opacity="0.85"/>
<ellipse cx="592.6" cy="501.2" rx="2.4" ry="1.5" fill="#f4efea" opacity="0.85"/>
<ellipse cx="483.0" cy="503.3" rx="1.9" ry="0.8" fill="#f4efea" opacity="0.85"/>
<ellipse cx="440.7" cy="487.7" rx="1.8" ry="1.1" fill="#f4efea" opacity="0.85"/>
<ellipse cx="466.2" cy="487.0" rx="1.6" ry="1.6" fill="#f4efea" opacity="0.85"/>
<ellipse cx="440.3" cy="493.7" rx="2.4" ry="0.9" fill="#f4efea" opacity="0.85"/>
<ellipse cx="612.3" cy="507.0" rx="2.5" ry="1.1" fill="#f4efea" opacity="0.85"/>
<ellipse cx="509.2" cy="492.7" rx="2.6" ry="1.4" fill="#f4efea" opacity="0.85"/>
<polyline points="357.0,491.0 440.0,503.5 500.0,512.5 628.0,518.0" fill="none" stroke="#8c735f" stroke-width="3.8" stroke-linejoin="round"/>
<polyline points="357.0,480.0 380.0,483.5 400.0,486.5 420.0,489.5 440.0,492.5 470.0,497.0 500.0,501.5 530.0,502.8 560.0,504.1 590.0,505.4 628.0,507.0" fill="none" stroke="#7d6655" stroke-width="2.6"/>
<line x1="382" y1="466.5" x2="631" y2="488" stroke="#7d6655" stroke-width="2.8"/>
<line x1="382" y1="478" x2="631" y2="499" stroke="#7d6655" stroke-width="2.2"/>
<path d="M351.5,491.0 L362.5,491.0 L358.0,498.0 L356.0,498.0 Z" fill="#8c735f"/>
<rect x="354.9" y="464.0" width="4.2" height="27.0" fill="#8c735f"/>
<path d="M377.5,494.9 L388.5,494.9 L384.0,502.9 L382.0,502.9 Z" fill="#8c735f"/>
<rect x="380.9" y="467.9" width="4.2" height="27.0" fill="#8c735f"/>
<path d="M407.5,499.4 L418.5,499.4 L414.0,507.4 L412.0,507.4 Z" fill="#8c735f"/>
<rect x="410.9" y="472.4" width="4.2" height="27.0" fill="#8c735f"/>
<path d="M437.5,503.9 L448.5,503.9 L444.0,511.9 L442.0,511.9 Z" fill="#8c735f"/>
<rect x="440.9" y="476.9" width="4.2" height="27.0" fill="#8c735f"/>
<path d="M465.5,508.1 L476.5,508.1 L472.0,516.1 L470.0,516.1 Z" fill="#8c735f"/>
<rect x="468.9" y="481.1" width="4.2" height="27.0" fill="#8c735f"/>
<path d="M494.5,512.5 L505.5,512.5 L501.0,520.5 L499.0,520.5 Z" fill="#8c735f"/>
<rect x="497.9" y="485.5" width="4.2" height="27.0" fill="#8c735f"/>
<path d="M526.5,513.9 L537.5,513.9 L533.0,521.9 L531.0,521.9 Z" fill="#8c735f"/>
<rect x="529.9" y="486.9" width="4.2" height="27.0" fill="#8c735f"/>
<path d="M559.5,515.3 L570.5,515.3 L566.0,523.3 L564.0,523.3 Z" fill="#8c735f"/>
<rect x="562.9" y="488.3" width="4.2" height="27.0" fill="#8c735f"/>
<path d="M589.5,516.6 L600.5,516.6 L596.0,524.6 L594.0,524.6 Z" fill="#8c735f"/>
<rect x="592.9" y="489.6" width="4.2" height="27.0" fill="#8c735f"/>
<path d="M621.5,518.0 L632.5,518.0 L628.0,526.0 L626.0,526.0 Z" fill="#8c735f"/>
<rect x="624.9" y="491.0" width="4.2" height="27.0" fill="#8c735f"/>
<line x1="357.0" y1="491.0" x2="381.0" y2="478.5" stroke="#7d6655" stroke-width="2.4"/>
<line x1="357.0" y1="480.0" x2="381.0" y2="468.0" stroke="#7d6655" stroke-width="2.2"/>
<line x1="383.0" y1="494.9" x2="407.0" y2="482.4" stroke="#7d6655" stroke-width="2.4"/>
<line x1="383.0" y1="483.9" x2="407.0" y2="471.9" stroke="#7d6655" stroke-width="2.2"/>
<line x1="413.0" y1="499.4" x2="437.0" y2="486.9" stroke="#7d6655" stroke-width="2.4"/>
<line x1="413.0" y1="488.4" x2="437.0" y2="476.4" stroke="#7d6655" stroke-width="2.2"/>
<line x1="443.0" y1="503.9" x2="467.0" y2="491.4" stroke="#7d6655" stroke-width="2.4"/>
<line x1="443.0" y1="492.9" x2="467.0" y2="480.9" stroke="#7d6655" stroke-width="2.2"/>
<line x1="471.0" y1="508.1" x2="495.0" y2="495.6" stroke="#7d6655" stroke-width="2.4"/>
<line x1="471.0" y1="497.1" x2="495.0" y2="485.1" stroke="#7d6655" stroke-width="2.2"/>
<line x1="500.0" y1="512.5" x2="524.0" y2="500.0" stroke="#7d6655" stroke-width="2.4"/>
<line x1="500.0" y1="501.5" x2="524.0" y2="489.5" stroke="#7d6655" stroke-width="2.2"/>
<line x1="532.0" y1="513.9" x2="556.0" y2="501.4" stroke="#7d6655" stroke-width="2.4"/>
<line x1="532.0" y1="502.9" x2="556.0" y2="490.9" stroke="#7d6655" stroke-width="2.2"/>
<line x1="565.0" y1="515.3" x2="589.0" y2="502.8" stroke="#7d6655" stroke-width="2.4"/>
<line x1="565.0" y1="504.3" x2="589.0" y2="492.3" stroke="#7d6655" stroke-width="2.2"/>
<line x1="595.0" y1="516.6" x2="619.0" y2="504.1" stroke="#7d6655" stroke-width="2.4"/>
<line x1="595.0" y1="505.6" x2="619.0" y2="493.6" stroke="#7d6655" stroke-width="2.2"/>
<rect x="354.1" y="462.0" width="3.8" height="29.0" rx="1.9" fill="#7d6655"/>
<rect x="354.8" y="464.0" width="0.9" height="25.0" fill="#9a8576" opacity="0.8"/>
<rect x="367.5" y="453.0" width="3.0" height="33.9" rx="1.5" fill="#7d6655"/>
<rect x="376.9" y="443.0" width="4.2" height="44.7" rx="2.1" fill="#7d6655"/>
<rect x="377.6" y="445.0" width="0.9" height="40.7" fill="#9a8576" opacity="0.8"/>
<rect x="392.5" y="458.0" width="3.0" height="31.1" rx="1.5" fill="#7d6655"/>
<rect x="401.1" y="447.0" width="3.8" height="42.9" rx="1.9" fill="#7d6655"/>
<rect x="401.8" y="449.0" width="0.9" height="38.9" fill="#9a8576" opacity="0.8"/>
<rect x="419.5" y="462.0" width="3.0" height="29.4" rx="1.5" fill="#7d6655"/>
<rect x="428.3" y="451.0" width="3.4" height="41.2" rx="1.7" fill="#7d6655"/>
<rect x="429.0" y="453.0" width="0.9" height="37.2" fill="#9a8576" opacity="0.8"/>
<rect x="437.7" y="461.0" width="2.6" height="32.0" rx="1.3" fill="#7d6655"/>
<rect x="447.8" y="461.0" width="2.4" height="32.9" rx="1.2" fill="#7d6655"/>
<rect x="456.2" y="455.0" width="3.6" height="39.7" rx="1.8" fill="#7d6655"/>
<rect x="456.9" y="457.0" width="0.9" height="35.7" fill="#9a8576" opacity="0.8"/>
<rect x="463.9" y="464.0" width="2.2" height="31.3" rx="1.1" fill="#7d6655"/>
<rect x="474.9" y="465.0" width="2.2" height="31.3" rx="1.1" fill="#7d6655"/>
<rect x="477.9" y="470.0" width="2.2" height="26.6" rx="1.1" fill="#7d6655"/>
<rect x="483.2" y="458.0" width="3.6" height="39.1" rx="1.8" fill="#7d6655"/>
<rect x="483.9" y="460.0" width="0.9" height="35.1" fill="#9a8576" opacity="0.8"/>
<rect x="490.9" y="468.0" width="2.2" height="29.7" rx="1.1" fill="#7d6655"/>
<rect x="497.9" y="477.0" width="2.2" height="21.3" rx="1.1" fill="#7d6655"/>
<rect x="503.8" y="468.0" width="2.4" height="30.9" rx="1.2" fill="#7d6655"/>
<rect x="507.9" y="474.0" width="2.2" height="25.2" rx="1.1" fill="#7d6655"/>
<rect x="511.2" y="461.0" width="3.6" height="38.6" rx="1.8" fill="#7d6655"/>
<rect x="511.9" y="463.0" width="0.9" height="34.6" fill="#9a8576" opacity="0.8"/>
<rect x="518.9" y="470.0" width="2.2" height="30.2" rx="1.1" fill="#7d6655"/>
<rect x="525.9" y="480.0" width="2.2" height="20.8" rx="1.1" fill="#7d6655"/>
<rect x="530.9" y="470.0" width="2.2" height="31.3" rx="1.1" fill="#7d6655"/>
<rect x="534.8" y="476.0" width="2.4" height="25.6" rx="1.2" fill="#7d6655"/>
<rect x="538.3" y="463.0" width="3.4" height="39.0" rx="1.7" fill="#7d6655"/>
<rect x="539.0" y="465.0" width="0.9" height="35.0" fill="#9a8576" opacity="0.8"/>
<rect x="547.4" y="472.0" width="2.2" height="30.7" rx="1.1" fill="#7d6655"/>
<rect x="559.4" y="472.0" width="2.2" height="31.8" rx="1.1" fill="#7d6655"/>
<rect x="563.3" y="477.0" width="3.4" height="27.2" rx="1.7" fill="#7d6655"/>
<rect x="564.0" y="479.0" width="0.9" height="23.2" fill="#9a8576" opacity="0.8"/>
<rect x="568.2" y="465.0" width="3.6" height="39.6" rx="1.8" fill="#7d6655"/>
<rect x="568.9" y="467.0" width="0.9" height="35.6" fill="#9a8576" opacity="0.8"/>
<rect x="575.9" y="474.0" width="2.2" height="31.2" rx="1.1" fill="#7d6655"/>
<rect x="587.9" y="473.0" width="2.2" height="33.3" rx="1.1" fill="#7d6655"/>
<rect x="596.1" y="465.5" width="3.8" height="41.6" rx="1.9" fill="#7d6655"/>
<rect x="596.8" y="467.5" width="0.9" height="37.6" fill="#9a8576" opacity="0.8"/>
<rect x="604.9" y="475.0" width="2.2" height="32.8" rx="1.1" fill="#7d6655"/>
<rect x="617.9" y="474.0" width="2.2" height="34.9" rx="1.1" fill="#7d6655"/>
<rect x="627.1" y="465.5" width="3.8" height="44.3" rx="1.9" fill="#7d6655"/>
<rect x="627.8" y="467.5" width="0.9" height="40.3" fill="#9a8576" opacity="0.8"/>
<rect x="582.9" y="476.0" width="2.2" height="29.8" rx="1.1" fill="#7d6655"/>
<rect x="610.5" y="472.0" width="3.0" height="36.3" rx="1.5" fill="#7d6655"/>
</g>

<!-- ============ PAINT POTS ============ -->
<g id="pots">
<rect x="468.7" y="521.0" width="21.3" height="38.5" rx="3.5" fill="url(#pot)"/>
<rect x="469.3" y="542.5" width="7.0" height="15.8" fill="#f0a27c"/>
<rect x="476.3" y="542.5" width="13.1" height="15.8" fill="#f3c23e"/>
<rect x="469.3" y="542.5" width="20.1" height="1.2" fill="#e07a2a" opacity="0.6"/>
<ellipse cx="479.4" cy="523.6" rx="9.5" ry="3.6" fill="#f7a444"/>
<rect x="495.0" y="522.7" width="23.3" height="38.3" rx="3.5" fill="url(#pot)"/>
<rect x="495.6" y="544.0" width="12.2" height="15.8" fill="#8761aa"/>
<rect x="507.8" y="544.0" width="9.9" height="15.8" fill="#efc043"/>
<rect x="495.6" y="544.0" width="22.1" height="1.2" fill="#e07a2a" opacity="0.6"/>
<ellipse cx="506.6" cy="525.3" rx="10.4" ry="3.6" fill="#4e4d66"/>
<path d="M502.6,525.3 l2,-1.5 l2,1.5 l-2,1.5 Z M506.6,525.3 l2,-1.5 l2,1.5 l-2,1.5 Z" fill="#d8d8e0" opacity="0.85"/>
<rect x="521.9" y="523.0" width="21.5" height="38.3" rx="3.5" fill="url(#pot)"/>
<rect x="522.5" y="544.0" width="17.3" height="16.1" fill="#f1c545"/>
<rect x="539.8" y="544.0" width="3.0" height="16.1" fill="#8a64ad"/>
<rect x="522.5" y="544.0" width="20.3" height="1.2" fill="#e07a2a" opacity="0.6"/>
<ellipse cx="532.6" cy="525.6" rx="9.6" ry="3.6" fill="#ebe6dc"/>
<rect x="549.6" y="523.0" width="22.5" height="38.5" rx="3.5" fill="url(#pot)"/>
<rect x="550.2" y="544.0" width="2.6" height="16.3" fill="#e8b84a"/>
<rect x="552.8" y="544.0" width="18.7" height="16.3" fill="#8459a8"/>
<rect x="550.2" y="544.0" width="21.3" height="1.2" fill="#e07a2a" opacity="0.6"/>
<ellipse cx="560.9" cy="525.6" rx="10.1" ry="3.6" fill="#3c3033"/>
<path d="M556.9,525.6 l2,-1.5 l2,1.5 l-2,1.5 Z M560.9,525.6 l2,-1.5 l2,1.5 l-2,1.5 Z" fill="#d8d8e0" opacity="0.85"/>
<rect x="578.0" y="524.0" width="22.6" height="38.5" rx="3.5" fill="url(#pot)"/>
<rect x="578.6" y="545.0" width="21.4" height="16.3" fill="#9a78c0"/>
<rect x="578.6" y="545.0" width="21.4" height="1.2" fill="#e07a2a" opacity="0.6"/>
<ellipse cx="589.3" cy="526.6" rx="10.1" ry="3.6" fill="#d9d7d2"/>
<rect x="476" y="545.5" width="9" height="3" fill="#c8463a" opacity="0.75"/>
<rect x="477" y="549.5" width="8" height="1.5" fill="#b0463a" opacity="0.6"/>
<rect x="508" y="547" width="8" height="3" fill="#c04a3a" opacity="0.6"/>
<rect x="527" y="548" width="10" height="3" fill="#c8463a" opacity="0.7"/>
<rect x="528" y="552" width="8" height="1.5" fill="#b0463a" opacity="0.5"/>
<rect x="555" y="547" width="12" height="2" fill="#b58fd0" opacity="0.7"/>
<rect x="556" y="552" width="10" height="4" fill="#a07cc0" opacity="0.6"/>
<rect x="583" y="548" width="12" height="2" fill="#c0a4dc" opacity="0.7"/>
<rect x="584" y="553" width="10" height="4" fill="#b398d4" opacity="0.6"/>
</g>

<!-- ============ BRUSH ============ -->
<g id="brush">
 <polygon points="528.0,587.9 560.6,581.3 658.3,560.1 657.7,557.1 559.6,576.4 527.0,583.3" fill="#efe4cb" stroke="#d2c3a2" stroke-width="0.6" stroke-linejoin="round"/>
 <path d="M657.0,558.6 Q659.8,558.6 658.0,560.0" fill="none" stroke="#d2c3a2" stroke-width="0.8"/>
 <polygon points="504,586.8 527.5,583.3 527.5,587.9 504,589.6" fill="#b4b5b8" stroke="#8e8f92" stroke-width="0.5"/>
 <polygon points="489,591.5 504,587 504,589.6 490,592.2" fill="#c98750"/>
</g>
</svg>
</body></html>
